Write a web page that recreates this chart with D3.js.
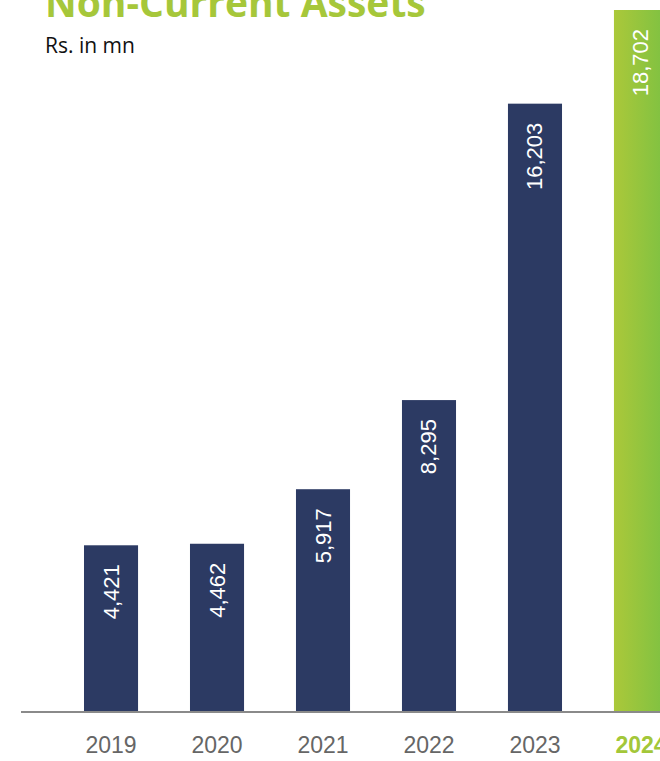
<!DOCTYPE html>
<html>
<head>
<meta charset="utf-8">
<script src="https://cdn.jsdelivr.net/npm/d3@7"></script>
<style>
  html, body { margin: 0; padding: 0; background: #fff; }
  svg { display: block; }
</style>
</head>
<body>
<svg id="chart" width="660" height="761"></svg>
<script>
// Non-current assets by year, Rs. in mn
const years = ["2019", "2020", "2021", "2022", "2023", "2024"];
const values = [4421, 4462, 5917, 8295, 16203, 18702];
const highlightYear = "2024";

const svg = d3.select("#chart");
const W = 660, H = 761;

const baseY = 711;
const x = d3.scaleBand()
  .domain(years)
  .range([31, 721])
  .paddingInner(0.49)
  .paddingOuter(0.5);

const y = d3.scaleLinear()
  .domain([0, 18702])
  .range([baseY, 10]);

// gradient for the latest year
const defs = svg.append("defs");
const grad = defs.append("linearGradient")
  .attr("id", "greenGrad")
  .attr("x1", "0%").attr("x2", "100%").attr("y1", "0%").attr("y2", "0%");
grad.append("stop").attr("offset", "0%").attr("stop-color", "#abc83a");
grad.append("stop").attr("offset", "100%").attr("stop-color", "#7cc142");

const data = years.map((yr, i) => ({ year: yr, value: values[i] }));

// bars
svg.append("g").selectAll("rect")
  .data(data)
  .join("rect")
  .attr("x", d => x(d.year))
  .attr("y", d => y(d.value))
  .attr("width", x.bandwidth())
  .attr("height", d => baseY - y(d.value))
  .attr("fill", d => d.year === highlightYear ? "url(#greenGrad)" : "#2c3a63");

// value labels, rotated inside bars
svg.append("g").selectAll("text")
  .data(data)
  .join("text")
  .attr("transform", d => `translate(${x(d.year) + x.bandwidth() / 2 + 7.5},${y(d.value) + 19}) rotate(-90)`)
  .attr("text-anchor", "end")
  .attr("fill", "#ffffff")
  .style("font-family", "'Liberation Sans', Arial, sans-serif")
  .style("font-size", "22px")
  .text(d => d3.format(",")(d.value));

// baseline axis
svg.append("line")
  .attr("x1", 21).attr("x2", W)
  .attr("y1", baseY + 1).attr("y2", baseY + 1)
  .attr("stroke", "#8a8a8a")
  .attr("stroke-width", 2);

// year labels
const xAxis = d3.axisBottom(x).tickSize(0).tickPadding(0);
const gx = svg.append("g").attr("transform", `translate(0,${baseY})`).call(xAxis);
gx.select(".domain").remove();
gx.selectAll("text")
  .attr("y", 42)
  .attr("dy", 0)
  .style("font-family", "'Liberation Sans', Arial, sans-serif")
  .style("font-size", "23px")
  .attr("fill", d => d === highlightYear ? "#a3c739" : "#666666")
  .style("font-weight", d => d === highlightYear ? "bold" : "normal");

// title and unit
svg.append("text")
  .attr("x", 45).attr("y", 17)
  .attr("fill", "#a6c73a")
  .style("font-family", "'Open Sans', sans-serif")
  .style("font-weight", "bold")
  .style("font-size", "39px")
  .text("Non-Current Assets");

svg.append("text")
  .attr("x", 45).attr("y", 53)
  .attr("fill", "#111111")
  .style("font-family", "'Open Sans', sans-serif")
  .style("font-size", "21px")
  .text("Rs. in mn");
</script>
</body>
</html>
